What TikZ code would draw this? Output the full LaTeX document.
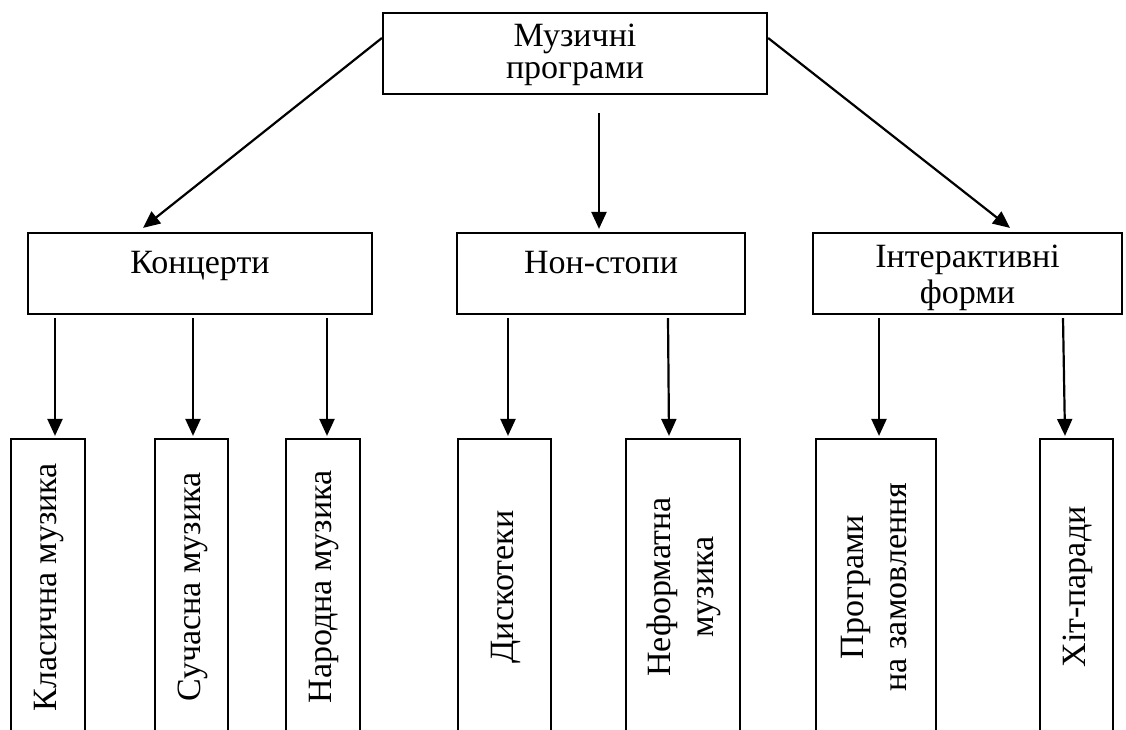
\documentclass[tikz,border=0pt]{standalone}
\usepackage{fontspec}
\setmainfont{Liberation Serif}
\usetikzlibrary{arrows.meta}

\newcommand{\vtext}[1]{\rotatebox{90}{\renewcommand{\arraystretch}{1.1}\begin{tabular}{@{}c@{}}#1\end{tabular}}}

\begin{document}
\begin{tikzpicture}[x=1pt,y=-1pt,
  box/.style={draw, line width=2.2pt, inner sep=0pt, align=center,
    font=\fontsize{34}{39}\selectfont},
  topbox/.style={box, minimum height=81pt},
  vbox/.style={box, minimum height=296pt},
  arr/.style={line width=2.2pt, -{Triangle[width=15pt,length=17pt]}}]

\clip (0,0) rectangle (1126,729);
\fill[white] (0,0) rectangle (1126,729);

% root (baseline of the last line is what text height measures)
\node[topbox, minimum width=384pt, text height=65pt, text depth=16pt,
      font=\fontsize{34}{32}\selectfont] (root) at (575,53.5) {Музичні\\програми};

% second level
\node[topbox, minimum width=344pt, text height=40pt, text depth=41pt] (konc) at (200,273.5) {Концерти};
\node[topbox, minimum width=288pt, text height=40pt, text depth=41pt] (non) at (601,273.5) {Нон-стопи};
\node[topbox, minimum width=309pt, text height=70pt, text depth=11pt,
      font=\fontsize{34}{36}\selectfont] (inter) at (967.5,273.5) {Інтерактивні\\форми};

% leaves (open at the bottom edge of the sheet)
\node[vbox, minimum width=74pt]  (klas)   at (48,587)    {\vtext{Класична музика}};
\node[vbox, minimum width=73pt]  (such)   at (191.5,587) {\vtext{Сучасна музика}};
\node[vbox, minimum width=74pt]  (narod)  at (323,587)   {\vtext{Народна музика}};
\node[vbox, minimum width=93pt]  (disk)   at (504.5,587) {\vtext{Дискотеки}};
\node[vbox, minimum width=114pt] (neform) at (683,587)   {\vtext{Неформатна\\музика}};
\node[vbox, minimum width=120pt] (progr)  at (876,587)   {\vtext{Програми\\на замовлення}};
\node[vbox, minimum width=73pt]  (hit)    at (1076.5,587) {\vtext{Хіт-паради}};

% root to second level
\draw[arr] ([yshift=15.5pt]root.west) -- ([xshift=-57pt,yshift=4pt]konc.north);
\draw[arr] ([xshift=24pt,yshift=-18pt]root.south) -- ([xshift=-2pt,yshift=3pt]non.north);
\draw[arr] ([yshift=15.5pt]root.east) -- ([xshift=42.5pt,yshift=4pt]inter.north);

% second level to leaves
\draw[arr] ([xshift=-145pt,yshift=-3pt]konc.south) -- ([xshift=7pt,yshift=2pt]klas.north);
\draw[arr] ([xshift=-7pt,yshift=-3pt]konc.south) -- ([xshift=1.5pt,yshift=2pt]such.north);
\draw[arr] ([xshift=127pt,yshift=-3pt]konc.south) -- ([xshift=4pt,yshift=2pt]narod.north);
\draw[arr] ([xshift=-93pt,yshift=-3pt]non.south) -- ([xshift=3.5pt,yshift=2pt]disk.north);
\draw[arr] ([xshift=67pt,yshift=-3pt]non.south) -- ([xshift=-14pt,yshift=2pt]neform.north);
\draw[arr] ([xshift=-88.5pt,yshift=-3pt]inter.south) -- ([xshift=3pt,yshift=2pt]progr.north);
\draw[arr] ([xshift=95.5pt,yshift=-3pt]inter.south) -- ([xshift=-11.5pt,yshift=2pt]hit.north);
\end{tikzpicture}
\end{document}
